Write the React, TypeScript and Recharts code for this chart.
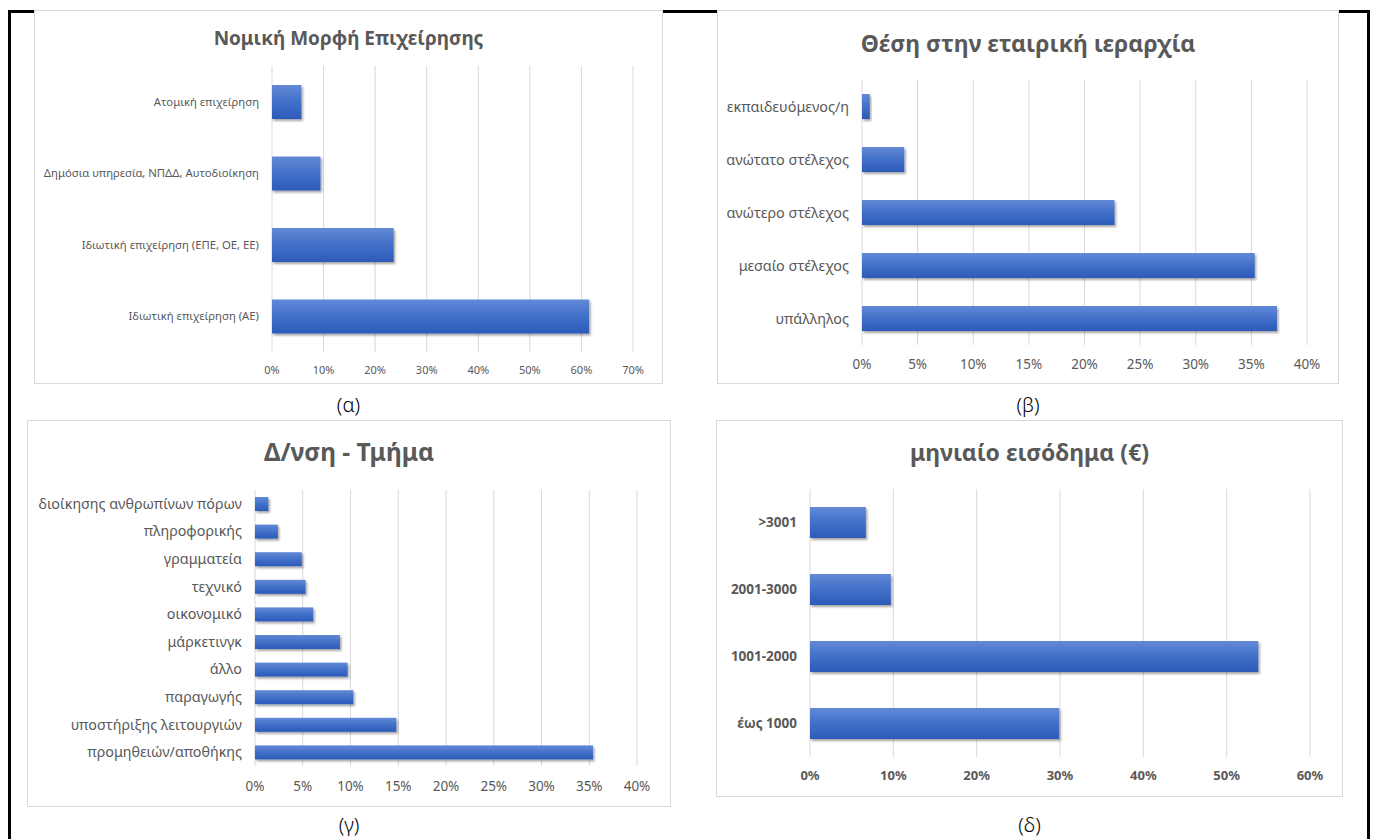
import React from 'react';
import { BarChart, Bar, XAxis, YAxis, CartesianGrid } from 'recharts';

// ---------- data ----------
const legalFormCategories = [
  'Ατομική επιχείρηση',
  'Δημόσια υπηρεσία, ΝΠΔΔ, Αυτοδιοίκηση',
  'Ιδιωτική επιχείρηση (ΕΠΕ, ΟΕ, ΕΕ)',
  'Ιδιωτική επιχείρηση (ΑΕ)',
];
const legalFormValues = [5.7, 9.4, 23.6, 61.5];
const legalFormTicks = [0, 10, 20, 30, 40, 50, 60, 70];

const hierarchyCategories = [
  'εκπαιδευόμενος/η',
  'ανώτατο στέλεχος',
  'ανώτερο στέλεχος',
  'μεσαίο στέλεχος',
  'υπάλληλος',
];
const hierarchyValues = [0.7, 3.8, 22.7, 35.3, 37.3];
const hierarchyTicks = [0, 5, 10, 15, 20, 25, 30, 35, 40];

const departmentCategories = [
  'διοίκησης ανθρωπίνων πόρων',
  'πληροφορικής',
  'γραμματεία',
  'τεχνικό',
  'οικονομικό',
  'μάρκετινγκ',
  'άλλο',
  'παραγωγής',
  'υποστήριξης λειτουργιών',
  'προμηθειών/αποθήκης',
];
const departmentValues = [1.4, 2.4, 4.9, 5.3, 6.1, 8.9, 9.7, 10.3, 14.8, 35.4];
const departmentTicks = [0, 5, 10, 15, 20, 25, 30, 35, 40];

const incomeCategories = ['>3001', '2001-3000', '1001-2000', 'έως 1000'];
const incomeValues = [6.7, 9.7, 53.8, 29.9];
const incomeTicks = [0, 10, 20, 30, 40, 50, 60];

// ---------- styling ----------
const FONT = '"Noto Sans", "Open Sans", sans-serif';
const TEXT = '#595959';

type Box = { left: number; top: number; width: number; height: number };
type Plot = { left: number; top: number; right: number; bottom: number };

type PanelProps = {
  id: string;
  box: Box;
  plot: Plot;
  title: string;
  titleSize: number;
  titleY: number;
  categories: string[];
  values: number[];
  ticks: number[];
  barSize: number;
  labelSize: number;
  tickSize: number;
  xTickMargin: number;
  bold?: boolean;
  caption: string;
  captionY: number;
};

function Panel(p: PanelProps) {
  const data = p.categories.map((name, i) => ({ name, value: p.values[i] }));
  const xAxisHeight = 30;
  const margin = {
    top: p.plot.top - p.box.top,
    right: p.box.left + p.box.width - p.plot.right,
    bottom: p.box.top + p.box.height - p.plot.bottom - xAxisHeight,
    left: 0,
  };
  const yAxisWidth = p.plot.left - p.box.left;
  const gid = `grad-${p.id}`;
  const fid = `shadow-${p.id}`;
  const weight = p.bold ? 700 : 400;

  const shape = (props: any) => {
    const { x, y, width, height } = props;
    if (width <= 0) return <g />;
    return (
      <rect x={x} y={y} width={width} height={height} fill={`url(#${gid})`} filter={`url(#${fid})`} />
    );
  };

  const catTick = (props: any) => {
    const { x, y, payload } = props;
    return (
      <text
        x={x}
        y={y}
        dy="0.35em"
        textAnchor="end"
        fill={TEXT}
        fontSize={p.labelSize}
        fontFamily={FONT}
        fontWeight={weight}
      >
        {payload.value}
      </text>
    );
  };

  return (
    <>
      <div
        style={{
          position: 'absolute',
          left: p.box.left,
          top: p.box.top,
          width: p.box.width,
          height: p.box.height,
          background: '#ffffff',
        }}
      >
        <BarChart
          width={p.box.width}
          height={p.box.height}
          data={data}
          layout="vertical"
          margin={margin}
        >
          <defs>
            <linearGradient id={gid} x1="0" y1="0" x2="0" y2="1">
              <stop offset="0%" stopColor="#6389d6" />
              <stop offset="50%" stopColor="#4170c8" />
              <stop offset="100%" stopColor="#2c5ab9" />
            </linearGradient>
            <filter id={fid} x="-10%" y="-30%" width="130%" height="180%">
              <feDropShadow dx="1.5" dy="2" stdDeviation="1.3" floodColor="#000000" floodOpacity="0.35" />
            </filter>
          </defs>
          <CartesianGrid horizontal={false} vertical stroke="#d9d9d9" />
          <XAxis
            type="number"
            domain={[p.ticks[0], p.ticks[p.ticks.length - 1]]}
            ticks={p.ticks}
            tickFormatter={(v: number) => `${v}%`}
            axisLine={false}
            tickLine={false}
            height={xAxisHeight}
            tickMargin={p.xTickMargin}
            interval={0}
            tick={{ fill: TEXT, fontSize: p.tickSize, fontFamily: FONT, fontWeight: weight }}
          />
          <YAxis
            type="category"
            dataKey="name"
            width={yAxisWidth}
            axisLine={false}
            tickLine={false}
            tickMargin={7}
            interval={0}
            tick={catTick}
          />
          <Bar dataKey="value" barSize={p.barSize} shape={shape} isAnimationActive={false} />
        </BarChart>
        <div
          style={{
            position: 'absolute',
            left: 0,
            top: p.titleY - p.box.top - p.titleSize * 0.7,
            width: '100%',
            textAlign: 'center',
            fontFamily: FONT,
            fontWeight: 700,
            fontSize: p.titleSize,
            lineHeight: `${p.titleSize * 1.4}px`,
            color: TEXT,
            whiteSpace: 'nowrap',
          }}
        >
          {p.title}
        </div>
        <div
          style={{
            position: 'absolute',
            inset: 0,
            border: '1px solid #d9d9d9',
            pointerEvents: 'none',
          }}
        />
      </div>
      <div
        style={{
          position: 'absolute',
          left: p.box.left,
          width: p.box.width,
          top: p.captionY - 11,
          height: 22,
          lineHeight: '22px',
          textAlign: 'center',
          fontFamily: FONT,
          fontWeight: 300,
          fontSize: 20,
          color: '#000000',
        }}
      >
        {p.caption}
      </div>
    </>
  );
}

export default function App() {
  return (
    <div
      style={{
        position: 'absolute',
        left: 0,
        top: 0,
        width: 1375,
        height: 839,
        overflow: 'hidden',
        background: '#ffffff',
      }}
    >
      <div
        style={{
          position: 'absolute',
          left: 8,
          top: 10,
          width: 1362,
          height: 900,
          border: '3px solid #000000',
          boxSizing: 'border-box',
        }}
      />
      <Panel
        id="a"
        box={{ left: 34, top: 10, width: 629, height: 374 }}
        plot={{ left: 272, top: 66, right: 633, bottom: 352 }}
        title="Νομική Μορφή Επιχείρησης"
        titleSize={19}
        titleY={38}
        categories={legalFormCategories}
        values={legalFormValues}
        ticks={legalFormTicks}
        barSize={34}
        labelSize={11.3}
        tickSize={11}
        xTickMargin={8}
        caption="(α)"
        captionY={405}
      />
      <Panel
        id="b"
        box={{ left: 717, top: 10, width: 622, height: 374 }}
        plot={{ left: 862, top: 80, right: 1307, bottom: 345 }}
        title="Θέση στην εταιρική ιεραρχία"
        titleSize={23}
        titleY={43}
        categories={hierarchyCategories}
        values={hierarchyValues}
        ticks={hierarchyTicks}
        barSize={25}
        labelSize={14.4}
        tickSize={13.5}
        xTickMargin={8.5}
        caption="(β)"
        captionY={405}
      />
      <Panel
        id="c"
        box={{ left: 27, top: 420, width: 644, height: 387 }}
        plot={{ left: 255, top: 490, right: 637, bottom: 766 }}
        title="Δ/νση - Τμήμα"
        titleSize={24.5}
        titleY={452}
        categories={departmentCategories}
        values={departmentValues}
        ticks={departmentTicks}
        barSize={14}
        labelSize={14.3}
        tickSize={13.5}
        xTickMargin={9.5}
        caption="(γ)"
        captionY={825}
      />
      <Panel
        id="d"
        box={{ left: 716, top: 420, width: 627, height: 377 }}
        plot={{ left: 810, top: 489, right: 1310, bottom: 757 }}
        title="μηνιαίο εισόδημα (€)"
        titleSize={23}
        titleY={452}
        categories={incomeCategories}
        values={incomeValues}
        ticks={incomeTicks}
        barSize={31}
        labelSize={13.5}
        tickSize={13}
        xTickMargin={7.5}
        bold
        caption="(δ)"
        captionY={825}
      />
    </div>
  );
}
